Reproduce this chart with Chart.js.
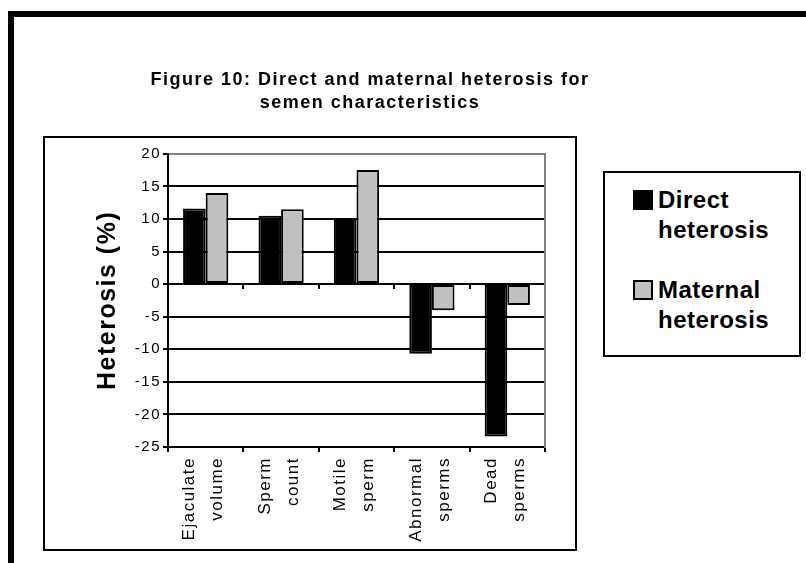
<!doctype html>
<html lang="en">
  <head>
    <meta charset="utf-8">
    <title>Figure 10</title>
    <style>
      html, body { margin: 0; padding: 0; overflow: hidden; background: #fff; }
      body { width: 806px; height: 563px; position: relative; font-family: Arial, "Liberation Sans", sans-serif; }
      /* outer chart frame, runs off the right and bottom edge like the original */
      #frame { position: absolute; left: 8px; top: 11px; width: 900px; height: 700px; border: 6px solid #000; }
      #plotbox { position: absolute; left: 43px; top: 136px; width: 534px; height: 415px; border: 2px solid #000; box-sizing: border-box; }
      #legend { position: absolute; left: 603px; top: 171px; width: 198px; height: 186px; border: 2px solid #000;
                box-sizing: border-box; padding-top: 12px; }
      #legend .item { position: relative; padding-left: 53px; margin-bottom: 30px; }
      #legend .swatch { position: absolute; left: 28px; top: 5px; width: 20px; height: 20px; box-sizing: border-box; border: 2px solid #000; }
      #legend .txt { display: block; width: 140px; font-weight: bold; font-size: 24px; line-height: 30px;
                     letter-spacing: 0.5px; color: #000; }
      canvas { position: absolute; left: 0; top: 0; }
    </style>
  </head>
  <body>
    <div id="frame"></div>
    <div id="plotbox"></div>
    <div id="legend"></div>
    <canvas id="bar-chart" width="806" height="563"></canvas>

    <script src="https://cdn.jsdelivr.net/npm/chart.js"></script>
    <script>
        // data
        var categories = [
            ["Ejaculate", "volume"],
            ["Sperm", "count"],
            ["Motile", "sperm"],
            ["Abnormal", "sperms"],
            ["Dead", "sperms"]
        ]
        var directHeterosis = [11.6, 10.5, 10.0, -10.7, -23.4]
        var maternalHeterosis = [14.0, 11.5, 17.5, -4.0, -3.2]
        var seriesNames = ["Direct heterosis", "Maternal heterosis"]
        var titleLines = ["Figure 10: Direct and maternal heterosis for", "semen characteristics"]
        var yTitle = "Heterosis (%)"
        var yMin = -25, yMax = 20, yStep = 5

        Chart.defaults.font.family = 'Arial, "Liberation Sans", sans-serif'
        Chart.defaults.color = '#000'

        // the old office renderer spaces its glyphs out a bit
        var letterSpacing = {
            id: 'letterSpacing',
            beforeUpdate: function (chart) { chart.ctx.letterSpacing = '1.5px' },
            beforeDraw: function (chart) { chart.ctx.letterSpacing = '1.5px' }
        }

        // html legend built from the chart's own legend items
        function buildLegend(chart) {
            var box = document.getElementById("legend")
            box.innerHTML = ""
            var items = chart.options.plugins.legend.labels.generateLabels(chart)
            items.forEach(function (item) {
                var row = document.createElement("div")
                row.className = "item"
                var sw = document.createElement("span")
                sw.className = "swatch"
                sw.style.background = item.fillStyle
                sw.style.borderColor = item.strokeStyle
                var txt = document.createElement("span")
                txt.className = "txt"
                txt.textContent = item.text
                row.appendChild(sw)
                row.appendChild(txt)
                box.appendChild(row)
            })
        }

        var barChart = new Chart(document.getElementById("bar-chart"), {
            type: 'bar',
            plugins: [letterSpacing],
            data: {
                labels: categories,
                datasets: [
                    {
                        label: seriesNames[0],
                        data: directHeterosis,
                        backgroundColor: '#000000',
                        borderColor: '#000000',
                        borderWidth: 2,
                        borderSkipped: false
                    },
                    {
                        label: seriesNames[1],
                        data: maternalHeterosis,
                        backgroundColor: '#c0c0c0',
                        borderColor: '#000000',
                        borderWidth: 2,
                        borderSkipped: false
                    }
                ]
            },
            options: {
                responsive: false,
                animation: false,
                categoryPercentage: 0.6,
                barPercentage: 1.0,
                layout: {
                    padding: { left: 43, right: 109, top: 68, bottom: 0 }
                },
                plugins: {
                    legend: { display: false },
                    tooltip: { enabled: false },
                    title: {
                        display: true,
                        text: titleLines,
                        font: { size: 18, weight: 'bold', lineHeight: 1.3 },
                        padding: { top: 0, bottom: 39 }
                    }
                },
                scales: {
                    x: {
                        position: 'bottom',
                        grid: { drawOnChartArea: false, offset: true, tickLength: 5, color: '#000', lineWidth: 2 },
                        border: { display: true, color: '#000', width: 2 },
                        ticks: {
                            autoSkip: false, maxRotation: 90, minRotation: 90,
                            font: { size: 17, lineHeight: 1.65 }, padding: 5, labelOffset: -16
                        },
                        afterFit: function (scale) { scale.height = 116 }
                    },
                    // tick marks along the zero line
                    x2: {
                        type: 'category',
                        position: { y: 0 },
                        grid: { drawOnChartArea: false, offset: true, tickLength: 5, color: '#000', lineWidth: 2 },
                        border: { display: false },
                        ticks: { display: false }
                    },
                    y: {
                        min: yMin,
                        max: yMax,
                        ticks: { stepSize: yStep, font: { size: 15 }, padding: 2 },
                        grid: {
                            color: function (ctx) { return ctx.tick && ctx.tick.value === yMax ? '#808080' : '#000' },
                            tickColor: '#000',
                            lineWidth: 2,
                            tickLength: 5
                        },
                        border: { display: true, color: '#000', width: 2 },
                        title: {
                            display: true,
                            text: yTitle,
                            font: { size: 25, weight: 'bold', lineHeight: 1.2 },
                            padding: { top: 50, bottom: 0 }
                        },
                        afterFit: function (scale) { scale.width = 125 }
                    },
                    // right edge of the plot area (grey frame line)
                    y2: {
                        position: 'right',
                        grid: { display: false },
                        ticks: { display: false },
                        border: { display: true, color: '#808080', width: 2 },
                        afterFit: function (scale) { scale.width = 152 }
                    }
                }
            }
        });

        buildLegend(barChart)
    </script>
  </body>
</html>
